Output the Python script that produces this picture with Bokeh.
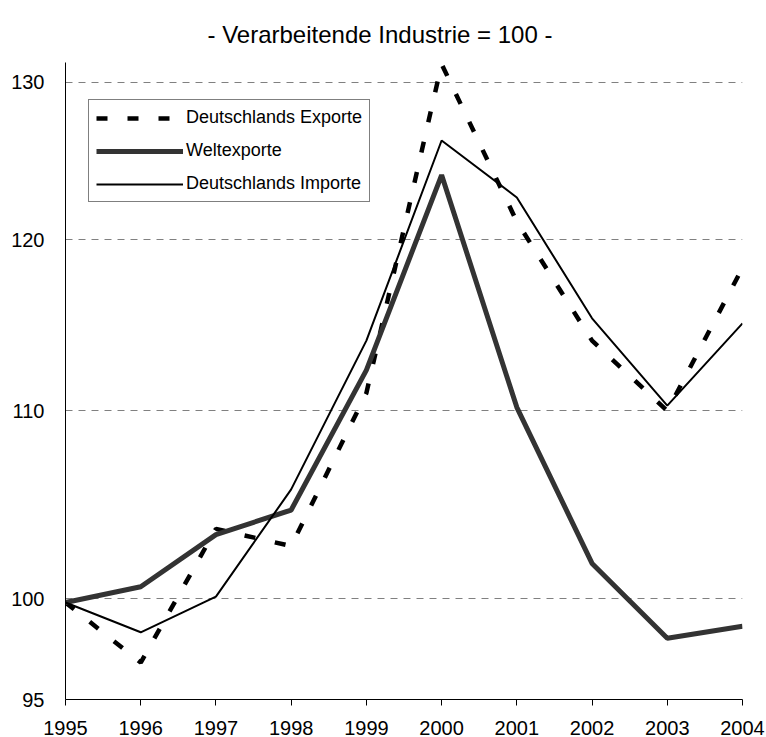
from bokeh.plotting import figure
from bokeh.models import (FixedTicker, Range1d, Legend, LegendItem, NumeralTickFormatter)
from bokeh.embed import file_html
from bokeh.resources import INLINE

years = [1995, 1996, 1997, 1998, 1999, 2000, 2001, 2002, 2003, 2004]
exporte = [99.8, 96.8, 103.6, 102.7, 111.0, 131.2, 121.1, 114.0, 110.0, 118.3]
welt = [99.8, 100.6, 103.3, 104.6, 112.3, 124.0, 110.2, 101.8, 98.0, 98.6]
importe = [99.8, 98.3, 100.1, 105.7, 114.0, 126.2, 122.6, 115.3, 110.3, 115.0]
y_ticks = [95, 100, 110, 120, 130]
grid_ticks = [100, 110, 120, 130]
title_text = "- Verarbeitende Industrie = 100 -"
names = ["Deutschlands Exporte", "Weltexporte", "Deutschlands Importe"]

FONT = "Liberation Sans"

p = figure(width=766, height=737, y_axis_type="log",
           x_range=Range1d(1995, 2004), y_range=Range1d(95, 131.3),
           output_backend="svg", toolbar_location=None,
           min_border_left=65, min_border_right=24, min_border_top=62,
           min_border_bottom=38)
p.outline_line_color = None

p.title.text = title_text
p.title.text_font = FONT
p.title.text_font_size = "24px"
p.title.text_font_style = "normal"
p.title.text_color = "black"
p.title.align = "left"
p.title.offset = 142
p.title.standoff = 30

# axes
p.xaxis.ticker = FixedTicker(ticks=years)
p.xaxis.major_label_text_font = FONT
p.xaxis.major_label_text_font_size = "20px"
p.xaxis.major_label_text_color = "black"
p.xaxis.major_tick_out = 6
p.xaxis.major_tick_in = 0
p.xaxis.minor_tick_line_color = None
p.xaxis.major_label_standoff = 15
p.xaxis.axis_line_color = "black"
p.xaxis.major_tick_line_color = "black"

p.yaxis.ticker = FixedTicker(ticks=y_ticks)
p.yaxis.formatter = NumeralTickFormatter(format="0")
p.yaxis.major_label_text_font = FONT
p.yaxis.major_label_text_font_size = "20px"
p.yaxis.major_label_text_color = "black"
p.yaxis.major_tick_line_color = None
p.yaxis.minor_tick_line_color = None
p.yaxis.major_label_standoff = 15
p.yaxis.axis_line_color = "black"

p.xgrid.grid_line_color = None
p.ygrid.ticker = FixedTicker(ticks=grid_ticks)
p.ygrid.grid_line_color = "#808080"
p.ygrid.grid_line_dash = "7 6"
p.ygrid.grid_line_width = 1

r_exp = p.line(years, exporte, line_color="black", line_width=4.5, line_dash="11 20")
r_welt = p.line(years, welt, line_color="#333333", line_width=5)
r_imp = p.line(years, importe, line_color="black", line_width=2)

legend = Legend(items=[LegendItem(label=names[0], renderers=[r_exp]),
                       LegendItem(label=names[1], renderers=[r_welt]),
                       LegendItem(label=names[2], renderers=[r_imp])],
                location=(23, 497))
legend.glyph_width = 87
legend.glyph_height = 16
legend.label_height = 16
legend.spacing = 12
legend.padding = 7
legend.margin = 0
legend.label_standoff = 3
legend.label_text_font = FONT
legend.label_text_font_size = "18px"
legend.label_text_color = "black"
legend.border_line_color = "black"
legend.border_line_width = 1
legend.background_fill_color = "white"
legend.background_fill_alpha = 1
p.add_layout(legend, "center")

open("out.html", "w").write(file_html(p, INLINE))
